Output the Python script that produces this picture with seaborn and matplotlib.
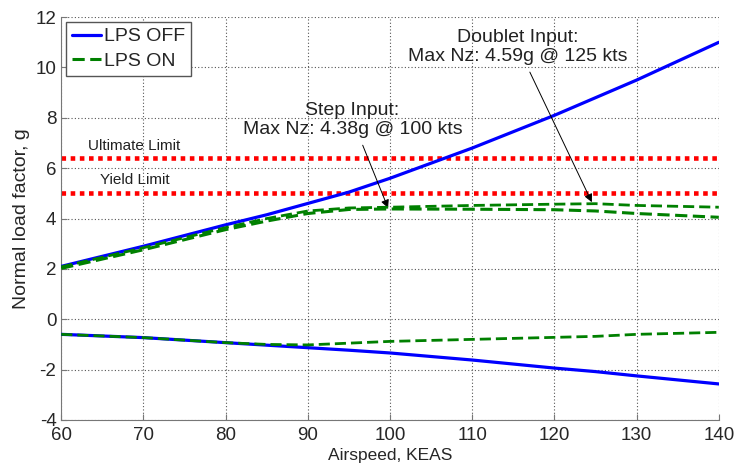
import matplotlib
matplotlib.use("Agg")
import matplotlib.pyplot as plt
import numpy as np
import pandas as pd
import seaborn as sns

# airspeed grid, KEAS
speeds = [60, 70, 80, 85, 90, 95, 100, 110, 120, 125, 130, 140]

# normal load factor, g
off_pos = [2.1, 2.9, 3.75, 4.15, 4.6, 5.05, 5.6, 6.8, 8.1, 8.8, 9.5, 11.0]
step_pos = [2.02, 2.76, 3.56, 3.9, 4.2, 4.36, 4.38, 4.37, 4.35, 4.3, 4.2, 4.05]
doublet_pos = [2.08, 2.84, 3.64, 4.0, 4.3, 4.42, 4.45, 4.52, 4.57, 4.59, 4.52, 4.45]
off_neg = [-0.6, -0.73, -0.93, -1.03, -1.13, -1.23, -1.34, -1.62, -1.94, -2.08, -2.25, -2.57]
on_neg = [-0.6, -0.73, -0.93, -1.0, -1.02, -0.95, -0.88, -0.8, -0.72, -0.68, -0.6, -0.52]

ultimate_limit = 6.4
yield_limit = 5.0

sns.set_style("ticks")
plt.rcParams["font.family"] = ["Liberation Sans", "DejaVu Sans"]
plt.rcParams["axes.unicode_minus"] = False

fig = plt.figure(figsize=(7.38, 4.63), dpi=100)
ax = fig.add_axes([0.083, 0.093, 0.891, 0.87])

green_dash = (0, (4, 1.8))
red_dot = (0, (1, 1))

# limit lines
ax.axhline(ultimate_limit, color="red", lw=3.3, linestyle=red_dot, zorder=2)
ax.axhline(yield_limit, color="red", lw=3.3, linestyle=red_dot, zorder=2)
ax.text(68.9, 6.88, "Ultimate Limit", fontsize=11, ha="center", va="center", color="#222222")
ax.text(68.9, 5.53, "Yield Limit", fontsize=11, ha="center", va="center", color="#222222")

sns.lineplot(x=speeds, y=off_pos, ax=ax, color="#0000ff", lw=2.3, label="LPS OFF", zorder=3)
sns.lineplot(x=speeds, y=off_neg, ax=ax, color="#0000ff", lw=2.3, zorder=3)
sns.lineplot(x=speeds, y=step_pos, ax=ax, color="#008000", lw=2.2, linestyle=green_dash, label="LPS ON", zorder=4)
sns.lineplot(x=speeds, y=doublet_pos, ax=ax, color="#008000", lw=2.0, linestyle=green_dash, zorder=4)
sns.lineplot(x=speeds, y=on_neg, ax=ax, color="#008000", lw=2.0, linestyle=green_dash, zorder=4)

# annotations
ax.annotate("Step Input:\nMax Nz: 4.38g @ 100 kts", xy=(99.76, 4.42), xytext=(95.44, 7.91),
            ha="center", va="center", fontsize=14, color="#222222", linespacing=1.15,
            arrowprops=dict(arrowstyle="-|>", color="black", lw=0.7, mutation_scale=12,
                            shrinkA=3, shrinkB=0))
ax.annotate("Doublet Input:\nMax Nz: 4.59g @ 125 kts", xy=(124.55, 4.65), xytext=(115.56, 10.81),
            ha="center", va="center", fontsize=14, color="#222222", linespacing=1.15,
            arrowprops=dict(arrowstyle="-|>", color="black", lw=0.7, mutation_scale=12,
                            shrinkA=3, shrinkB=0))

ax.set_xlim(60, 140)
ax.set_ylim(-4, 12)
ax.set_xticks(np.arange(60, 141, 10))
ax.set_yticks(np.arange(-4, 13, 2))
ax.tick_params(labelsize=13.5, direction="in", length=4, color="#777777")
ax.tick_params(axis="x", pad=5)
ax.set_xlabel("Airspeed, KEAS", fontsize=12.5, labelpad=3)
ax.set_ylabel("Normal load factor, g", fontsize=14, labelpad=4)
ax.grid(True, color="#555555", linestyle=(0, (1, 2)), lw=0.8)
for s in ["top", "right"]:
    ax.spines[s].set_visible(False)
for s in ["left", "bottom"]:
    ax.spines[s].set_color("#777777")

leg = ax.legend(loc="upper left", fontsize=14, fancybox=False, framealpha=1,
                edgecolor="#555555", borderaxespad=0.25, handlelength=1.5,
                handletextpad=0.15, borderpad=0.3, labelspacing=0.35)
leg.get_frame().set_linewidth(1.0)

fig.savefig("out.png", dpi=100)
